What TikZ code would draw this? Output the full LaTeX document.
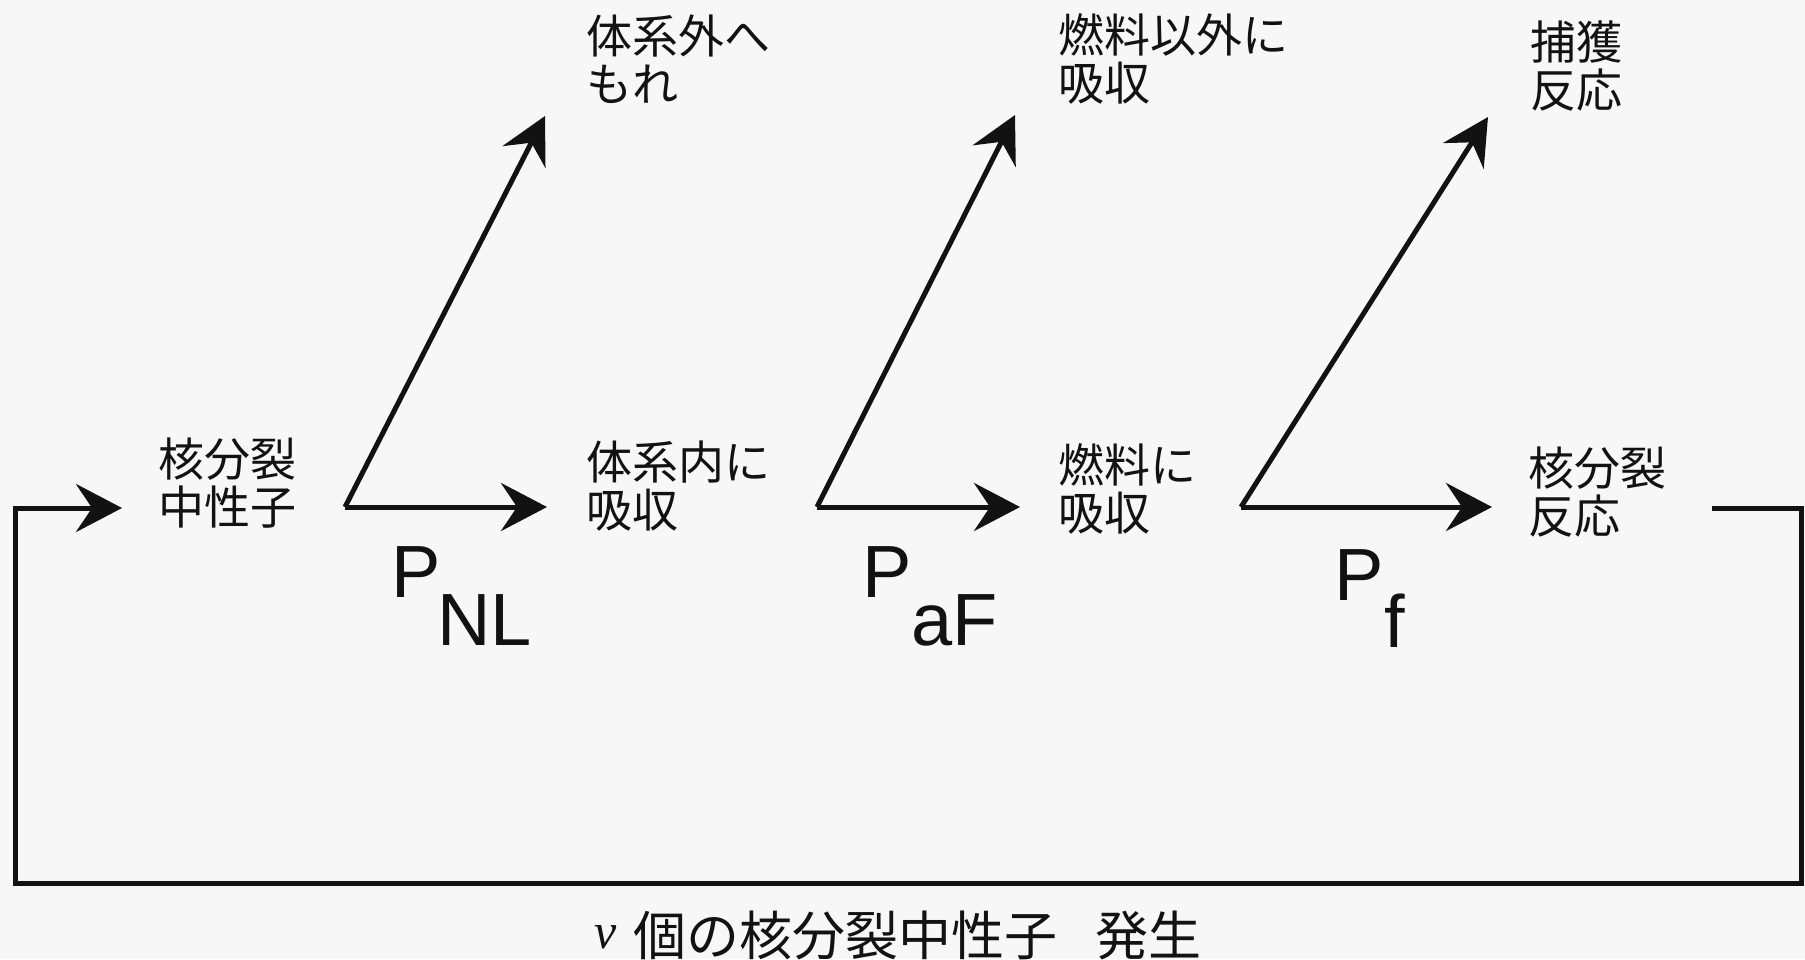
\documentclass[tikz,border=0pt]{standalone}
\usepackage{fontspec}
\setmainfont{Liberation Sans}
\newfontfamily\jp{Noto Sans CJK JP}
\newfontfamily\nufont{Liberation Serif}
\usetikzlibrary{arrows.meta,calc}
\definecolor{paper}{RGB}{247,247,247}
\definecolor{ink}{RGB}{18,18,18}
\begin{document}
\begin{tikzpicture}[x=1pt,y=-1pt,
  line/.style={draw=ink,line width=5pt,line join=miter},
  arr/.style={line,-{Stealth[length=46pt,width=48pt,inset=16pt]}},
  lbl/.style={anchor=west,inner sep=0pt,align=left,text=ink,font=\jp\fontsize{46}{48}\selectfont},
  pl/.style={anchor=base west,inner sep=0pt,text=ink,font=\fontsize{74}{74}\selectfont}]
\path[fill=paper,use as bounding box] (0,0) rectangle (1805,959);

% text nodes
\node[lbl] (a) at (158,483.5) {核分裂\\中性子};
\node[lbl] (b) at (586,486) {体系内に\\吸収};
\node[lbl] (c) at (586,59) {体系外へ\\もれ};
\node[lbl] (e) at (1058,489) {燃料に\\吸収};
\node[lbl] (d) at (1058,59) {燃料以外に\\吸収};
\node[lbl] (g) at (1528,492) {核分裂\\反応};
\node[lbl] (f) at (1530,66) {捕獲\\反応};

% branch points and arrow tips
\coordinate (j1) at (345,507);
\coordinate (j2) at (817,507);
\coordinate (j3) at (1241,507);
\coordinate (t1) at (545,116);
\coordinate (t2) at (1015,115);
\coordinate (t3) at (1488,117);

\draw[arr,shorten >=39pt] (j1) -- (j1 -| b.west);
\draw[arr] (j1) -- (t1);
\draw[arr,shorten >=38pt] (j2) -- (j2 -| e.west);
\draw[arr] (j2) -- (t2);
\draw[arr,shorten >=36pt] (j3) -- (j3 -| g.west);
\draw[arr] (j3) -- (t3);

% feedback loop
\coordinate (r0) at (1712,508);
\coordinate (ne) at (1801,508);
\coordinate (se) at (1801,883);
\coordinate (sw) at (15,883);
\coordinate (nw) at (15,508);
\draw[arr,shorten >=36pt] (r0) -- (ne) -- (se) -- (sw) -- (nw) -- (nw -| a.west);

% probability labels
\node[pl] (p1) at (391,597) {P};
\node[pl] (p1s) at (437,645) {NL};
\node[pl] (p2) at (862,597) {P};
\node[pl] (p2s) at (911,645) {aF};
\node[pl] (p3) at (1334,600) {P};
\node[pl] (p3s) at (1384,647) {f};

% bottom caption
\node[anchor=base west,inner sep=0pt,text=ink,font=\nufont\itshape\fontsize{50}{50}\selectfont] (nu) at (594,948) {ν};
\node[anchor=west,inner sep=0pt,text=ink,font=\jp\fontsize{53}{53}\selectfont] (cap) at (633,935) {個の核分裂中性子\hspace{38pt}発生};
\end{tikzpicture}
\end{document}
